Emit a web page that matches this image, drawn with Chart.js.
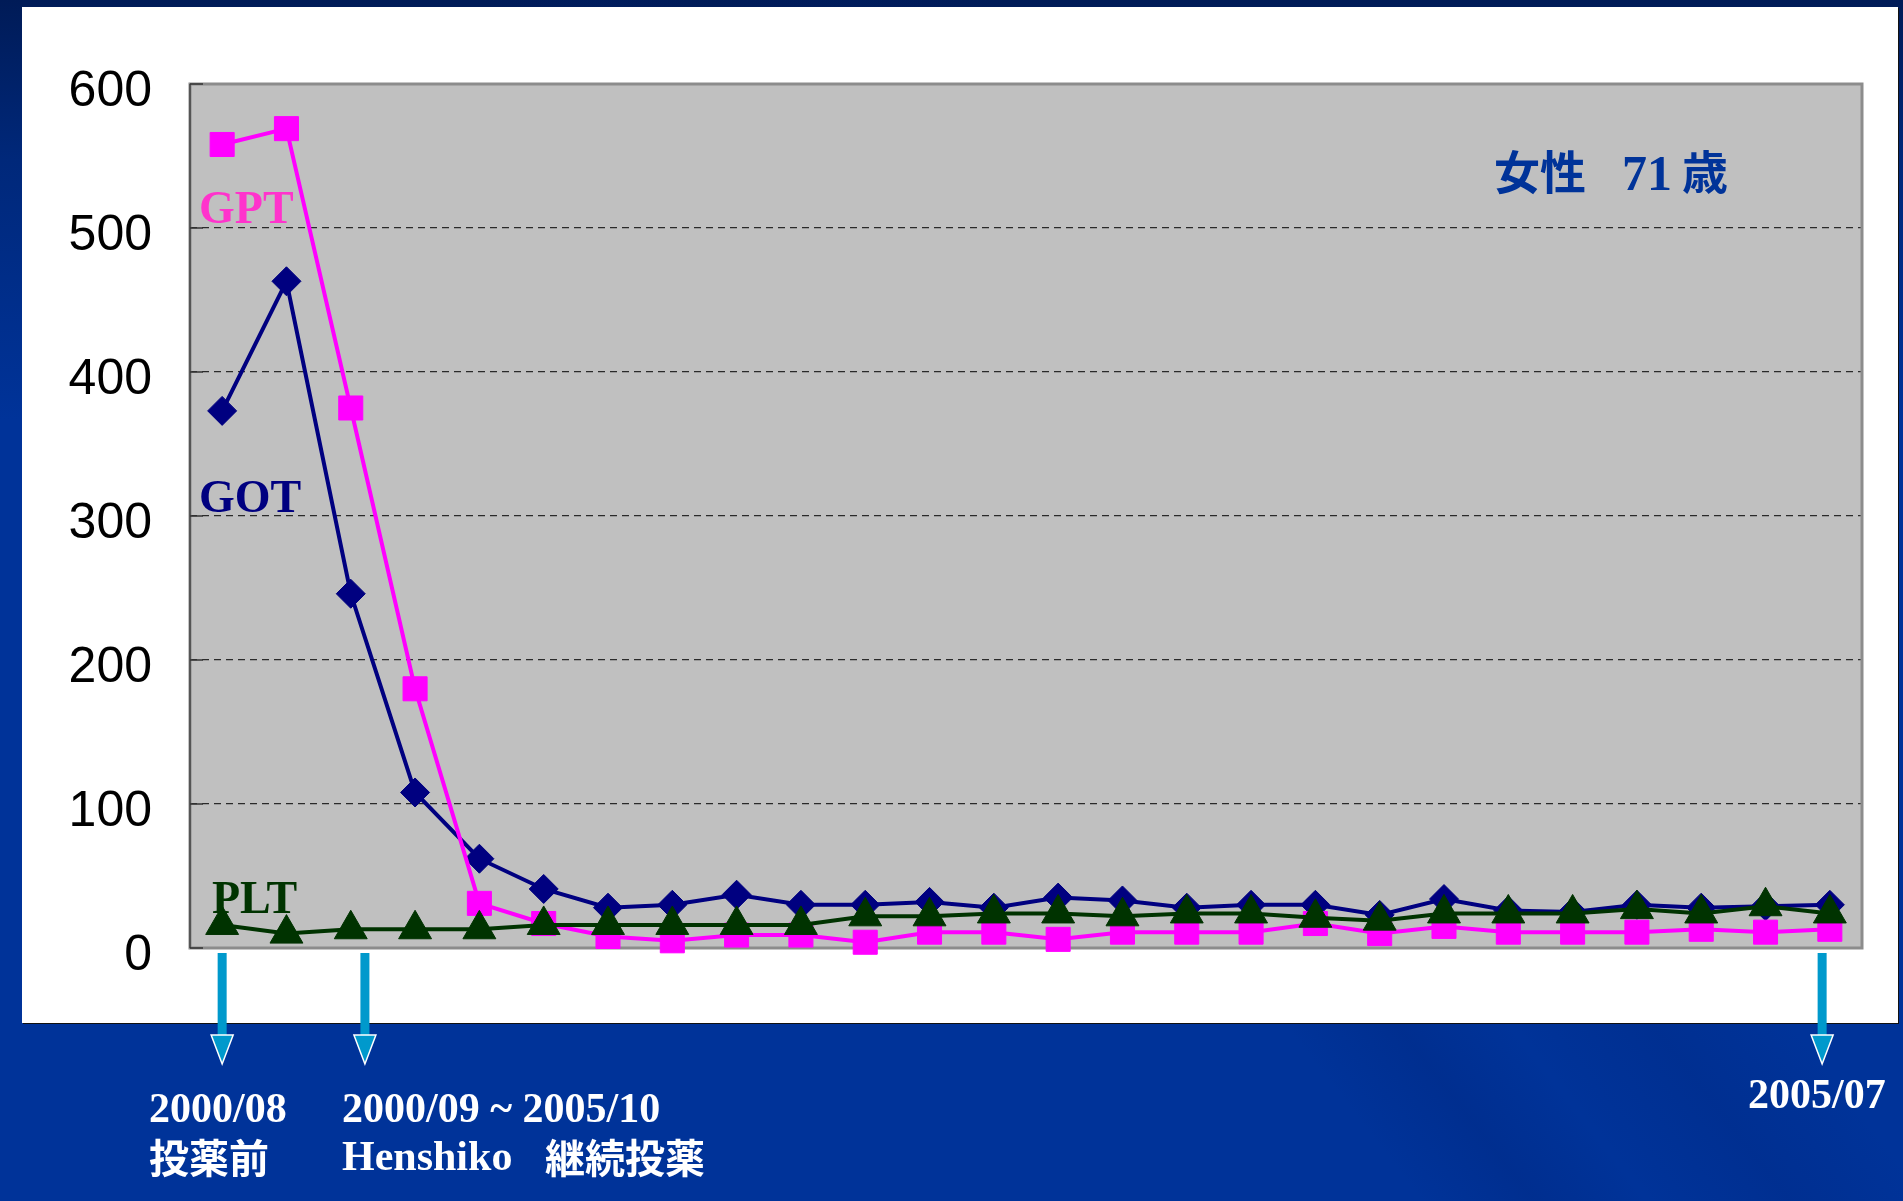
<!DOCTYPE html>
<html lang="ja">
<head>
<meta charset="UTF-8">
<title>GOT / GPT / PLT 推移</title>
<style>
  html, body {
    margin: 0;
    padding: 0;
    width: 1903px;
    height: 1201px;
    overflow: hidden;
  }
  body {
    position: relative;
    background:
      linear-gradient(52deg, rgba(0,0,0,0) 50%, rgba(0,30,110,0.22) 54%, rgba(0,0,0,0) 58%, rgba(0,30,110,0.18) 63%, rgba(0,0,0,0) 68%),
      linear-gradient(180deg, #001b57 0px, #00287a 160px, #003399 420px, #003399 100%);
  }
  .panel {
    position: absolute;
    left: 22px;
    top: 7px;
    width: 1876px;
    height: 1016px;
    background: #fff;
    box-shadow: 1px 1px 0 #111;
  }
  .chart-box {
    position: absolute;
    left: 0;
    top: 0;
    width: 1903px;
    height: 1201px;
  }
</style>
</head>
<body>
<div class="panel"></div>
<div class="chart-box">
  <canvas id="liverChart"></canvas>
</div>
<script src="https://cdn.jsdelivr.net/npm/chart.js@4"></script>
<script>
// 測定回 (x軸ラベルなし)
const visits = ['1','2','3','4','5','6','7','8','9','10','11','12','13',
                '14','15','16','17','18','19','20','21','22','23','24','25','26'];
const gotValues = [373, 463, 246, 108, 62, 41, 28, 30, 37, 30, 30, 32, 28,
                   35, 33, 28, 30, 30, 23, 34, 26, 25, 30, 28, 29, 30];
const gptValues = [558, 569, 375, 180, 31, 17, 8, 5, 9, 9, 4, 11, 11,
                   6, 11, 11, 11, 17, 10, 15, 11, 11, 11, 13, 11, 13];
const pltValues = [16, 10, 13, 13, 13, 16, 16, 16, 16, 16, 22, 22, 24,
                   24, 22, 24, 24, 21, 19, 24, 24, 24, 27, 24, 29, 24];
const yTicks = [0, 100, 200, 300, 400, 500, 600];

const SERIF = '"Liberation Serif", "Times New Roman", serif';
const CJK = '"Noto Sans CJK JP", "Noto Sans", sans-serif';

// 灰色の描画領域と枠線
const plotFrame = {
  id: 'plotFrame',
  beforeDraw(chart) {
    const { ctx, chartArea: a } = chart;
    ctx.save();
    ctx.fillStyle = '#c0c0c0';
    ctx.fillRect(a.left, a.top, a.right - a.left, a.bottom - a.top);
    ctx.restore();
  },
  beforeDatasetsDraw(chart) {
    const { ctx, chartArea: a } = chart;
    ctx.save();
    ctx.strokeStyle = '#8c8c8c';
    ctx.lineWidth = 3;
    ctx.strokeRect(a.left, a.top, a.right - a.left, a.bottom - a.top);
    ctx.strokeStyle = '#555';
    ctx.lineWidth = 2;
    ctx.beginPath();
    ctx.moveTo(a.left, a.top);
    ctx.lineTo(a.left, a.bottom);
    ctx.stroke();
    // 内向きの目盛り
    const y = chart.scales.y;
    ctx.strokeStyle = '#333';
    ctx.lineWidth = 1.5;
    yTicks.forEach(v => {
      const py = y.getPixelForValue(v);
      ctx.beginPath();
      ctx.moveTo(a.left, py);
      ctx.lineTo(a.left + 13, py);
      ctx.stroke();
    });
    ctx.restore();
  }
};

// ラベル・矢印・注記
const notes = {
  id: 'notes',
  afterDraw(chart) {
    const { ctx } = chart;
    const x = chart.scales.x;
    ctx.save();

    // 系列名
    ctx.textAlign = 'left';
    ctx.textBaseline = 'alphabetic';
    ctx.font = 'bold 46px ' + SERIF;
    ctx.fillStyle = '#ff33cc';
    ctx.fillText('GPT', 199, 223);
    ctx.fillStyle = '#000080';
    ctx.fillText('GOT', 199, 512);
    ctx.fillStyle = '#003300';
    ctx.fillText('PLT', 212, 913);

    // 女性 71 歳
    ctx.fillStyle = '#003399';
    ctx.textBaseline = 'middle';
    ctx.font = 'bold 46px ' + CJK;
    ctx.fillText('女性', 1494, 172);
    ctx.fillText('歳', 1682, 172);
    ctx.textBaseline = 'alphabetic';
    ctx.font = 'bold 50px ' + SERIF;
    ctx.fillText('71', 1622, 190);

    // 矢印
    const arrowAt = [0, 2.22, 24.88];
    arrowAt.forEach(v => {
      const px = x.getPixelForValue(v);
      ctx.fillStyle = '#0099cc';
      ctx.fillRect(px - 4.5, 953, 9, 83);
      ctx.beginPath();
      ctx.moveTo(px - 11, 1035);
      ctx.lineTo(px + 11, 1035);
      ctx.lineTo(px, 1064);
      ctx.closePath();
      ctx.fill();
      ctx.strokeStyle = '#ffffff';
      ctx.lineWidth = 1.5;
      ctx.stroke();
    });

    // 下部注記
    ctx.fillStyle = '#ffffff';
    ctx.font = 'bold 42px ' + SERIF;
    ctx.fillText('2000/08', 149, 1122);
    ctx.fillText('2000/09 ~ 2005/10', 342, 1122);
    ctx.fillText('Henshiko', 342, 1170);
    ctx.fillText('2005/07', 1748, 1108);
    ctx.textBaseline = 'middle';
    ctx.font = 'bold 40px ' + CJK;
    ctx.fillText('投薬前', 149, 1158);
    ctx.fillText('継続投薬', 545, 1158);

    ctx.restore();
  }
};

new Chart(document.getElementById('liverChart'), {
  type: 'line',
  data: {
    labels: visits,
    datasets: [
      {
        label: 'GOT',
        data: gotValues,
        borderColor: '#000080',
        backgroundColor: '#000080',
        borderWidth: 4,
        pointStyle: 'rectRot',
        pointRadius: 14.5,
        pointBorderWidth: 1,
        order: 3
      },
      {
        label: 'GPT',
        data: gptValues,
        borderColor: '#ff00ff',
        backgroundColor: '#ff00ff',
        borderWidth: 4,
        pointStyle: 'rect',
        pointRadius: 17,
        pointBorderWidth: 1,
        order: 2
      },
      {
        label: 'PLT',
        data: pltValues,
        borderColor: '#003300',
        backgroundColor: '#003300',
        borderWidth: 4,
        pointStyle: 'triangle',
        pointRadius: 19,
        pointBorderWidth: 1,
        order: 1
      }
    ]
  },
  options: {
    responsive: true,
    maintainAspectRatio: false,
    animation: false,
    events: [],
    clip: false,
    elements: { line: { tension: 0 } },
    layout: { padding: { left: 0, top: 84, right: 41, bottom: 253 } },
    plugins: {
      legend: { display: false },
      tooltip: { enabled: false }
    },
    scales: {
      x: {
        display: false,
        offset: true
      },
      y: {
        min: 0,
        max: 600,
        afterFit(scale) { scale.width = 190; },
        afterBuildTicks(scale) { scale.ticks = yTicks.map(v => ({ value: v })); },
        border: { display: false, dash: [7, 5] },
        grid: {
          color: '#2a2a2a',
          lineWidth: 1.3,
          drawTicks: false
        },
        ticks: {
          padding: 38,
          labelOffset: 8,
          color: '#000',
          font: { family: '"Liberation Sans", Arial, sans-serif', size: 50 }
        }
      }
    }
  },
  plugins: [plotFrame, notes]
});
</script>
</body>
</html>
